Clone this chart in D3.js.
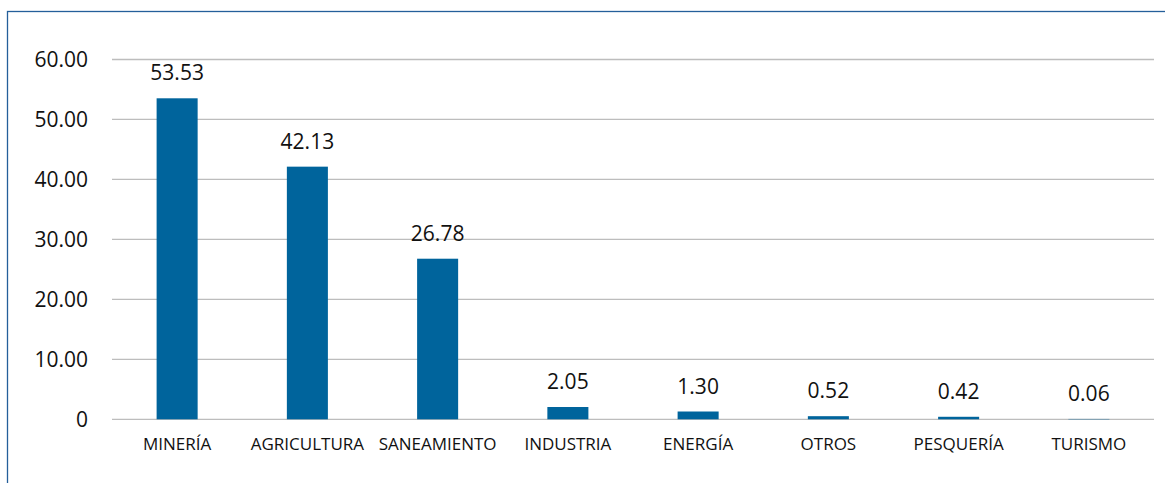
<!DOCTYPE html>
<html><head><meta charset="utf-8">
<script src="https://cdn.jsdelivr.net/npm/d3@7"></script>
<style>
html,body{margin:0;padding:0;background:#fff;}
svg{display:block;}
text{font-family:"Open Sans",sans-serif;fill:#111;}
</style></head>
<body>
<svg id="chart" width="1165" height="483"></svg>
<script>
const categories = ["MINERÍA","AGRICULTURA","SANEAMIENTO","INDUSTRIA","ENERGÍA","OTROS","PESQUERÍA","TURISMO"];
const values = [53.53, 42.13, 26.78, 2.05, 1.30, 0.52, 0.42, 0.06];
const valueLabels = ["53.53","42.13","26.78","2.05","1.30","0.52","0.42","0.06"];
const yTicks = [0, 10, 20, 30, 40, 50, 60];
const yTickLabels = ["0","10.00","20.00","30.00","40.00","50.00","60.00"];

const svg = d3.select("#chart");
const plotLeft = 112, plotRight = 1154, plotTop = 59.5, plotBottom = 419.3;

// border
svg.append("rect").attr("x",7.5).attr("y",11.5).attr("width",1165).attr("height",500)
  .attr("fill","none").attr("stroke","#245f9a").attr("stroke-width",1.3);

const x = d3.scaleBand().domain(categories).range([plotLeft,plotRight]).paddingInner(0.685).paddingOuter(0.3425);
const y = d3.scaleLinear().domain([0,60]).range([plotBottom,plotTop]);

// gridlines
svg.append("g").selectAll("line").data(yTicks).join("line")
  .attr("x1",plotLeft).attr("x2",plotRight)
  .attr("y1",d=>y(d)).attr("y2",d=>y(d))
  .attr("stroke","#bdbdbd").attr("stroke-width",1.3);

// y labels
svg.append("g").selectAll("text").data(yTicks).join("text")
  .attr("x",88).attr("y",d=>y(d)).attr("dy","0.36em")
  .attr("text-anchor","end").attr("font-size",21)
  .text((d,i)=>yTickLabels[i]);

// bars
svg.append("g").selectAll("rect").data(values).join("rect")
  .attr("x",(d,i)=>x(categories[i])).attr("width",x.bandwidth())
  .attr("y",d=>y(d)).attr("height",d=>y(0)-y(d))
  .attr("fill","#00649c");

// value labels
svg.append("g").selectAll("text").data(values).join("text")
  .attr("x",(d,i)=>x(categories[i])+x.bandwidth()/2)
  .attr("y",d=>y(d)-18)
  .attr("text-anchor","middle").attr("font-size",21)
  .text((d,i)=>valueLabels[i]);

// x labels
svg.append("g").selectAll("text").data(categories).join("text")
  .attr("x",d=>x(d)+x.bandwidth()/2).attr("y",450)
  .attr("text-anchor","middle").attr("font-size",17)
  .text(d=>d);
</script>
</body></html>
